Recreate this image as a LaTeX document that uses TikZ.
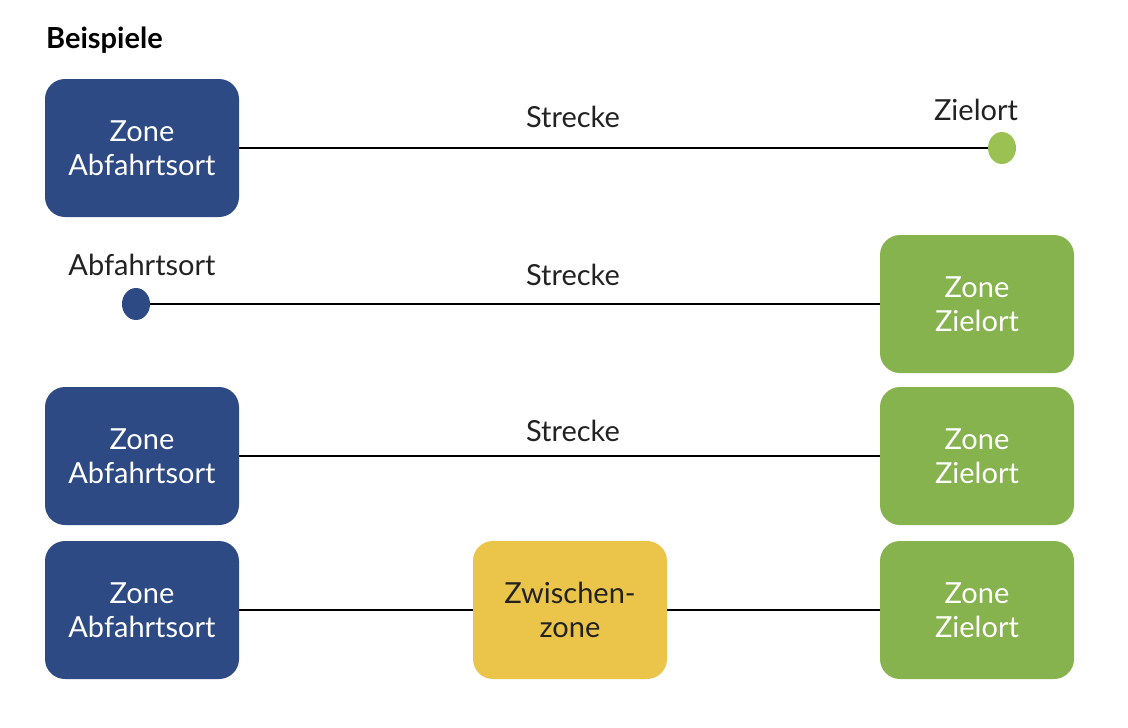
\documentclass[tikz,border=0pt]{standalone}
\usepackage{fontspec}
\setmainfont{Lato}
\usetikzlibrary{shapes.geometric}
\definecolor{zblue}{HTML}{2E4A84}
\definecolor{zgreen}{HTML}{86B34E}
\definecolor{dotgreen}{HTML}{9BC152}
\definecolor{zyellow}{HTML}{EAC54A}
\definecolor{txt}{HTML}{222222}
\begin{document}
\begin{tikzpicture}[x=1pt,y=-1pt,
  zbox/.style={rounded corners=20pt, minimum width=194pt, minimum height=138pt, inner sep=0pt, align=center, font=\fontsize{29}{34}\selectfont},
  bluebox/.style={zbox, fill=zblue, text=white},
  greenbox/.style={zbox, fill=zgreen, text=white},
  yellowbox/.style={zbox, fill=zyellow, text=txt},
  dot/.style={ellipse, minimum width=28pt, minimum height=32pt, inner sep=0pt},
  lbl/.style={text=txt, font=\fontsize{29}{34}\selectfont, inner sep=0pt},
  conn/.style={line width=2pt, draw=black}]
\useasboundingbox (0,0) rectangle (1128,728);
\node[anchor=west, font=\bfseries\fontsize{29}{34}\selectfont, inner sep=0pt] (title) at (46,40) {Beispiele};
% row 1
\node[bluebox] (a1) at (142,148) {Zone\\Abfahrtsort};
\node[dot, fill=dotgreen] (z1) at (1002,148) {};
\draw[conn] (a1.east) -- (z1.west);
\node[lbl] (s1) at (573,117) {Strecke};
\node[lbl] (zl1) at (976,110) {Zielort};
% row 2
\node[dot, fill=zblue] (a2) at (136,304) {};
\node[greenbox] (z2) at (977,304) {Zone\\Zielort};
\draw[conn] (a2.east) -- (z2.west);
\node[lbl] (al2) at (142,265) {Abfahrtsort};
\node[lbl] (s2) at (573,275) {Strecke};
% row 3
\node[bluebox] (a3) at (142,456) {Zone\\Abfahrtsort};
\node[greenbox] (z3) at (977,456) {Zone\\Zielort};
\draw[conn] (a3.east) -- (z3.west);
\node[lbl] (s3) at (573,431) {Strecke};
% row 4
\node[bluebox] (a4) at (142,610) {Zone\\Abfahrtsort};
\node[yellowbox] (m4) at (570,610) {Zwischen-\\zone};
\node[greenbox] (z4) at (977,610) {Zone\\Zielort};
\draw[conn] (a4.east) -- (m4.west);
\draw[conn] (m4.east) -- (z4.west);
\end{tikzpicture}
\end{document}
